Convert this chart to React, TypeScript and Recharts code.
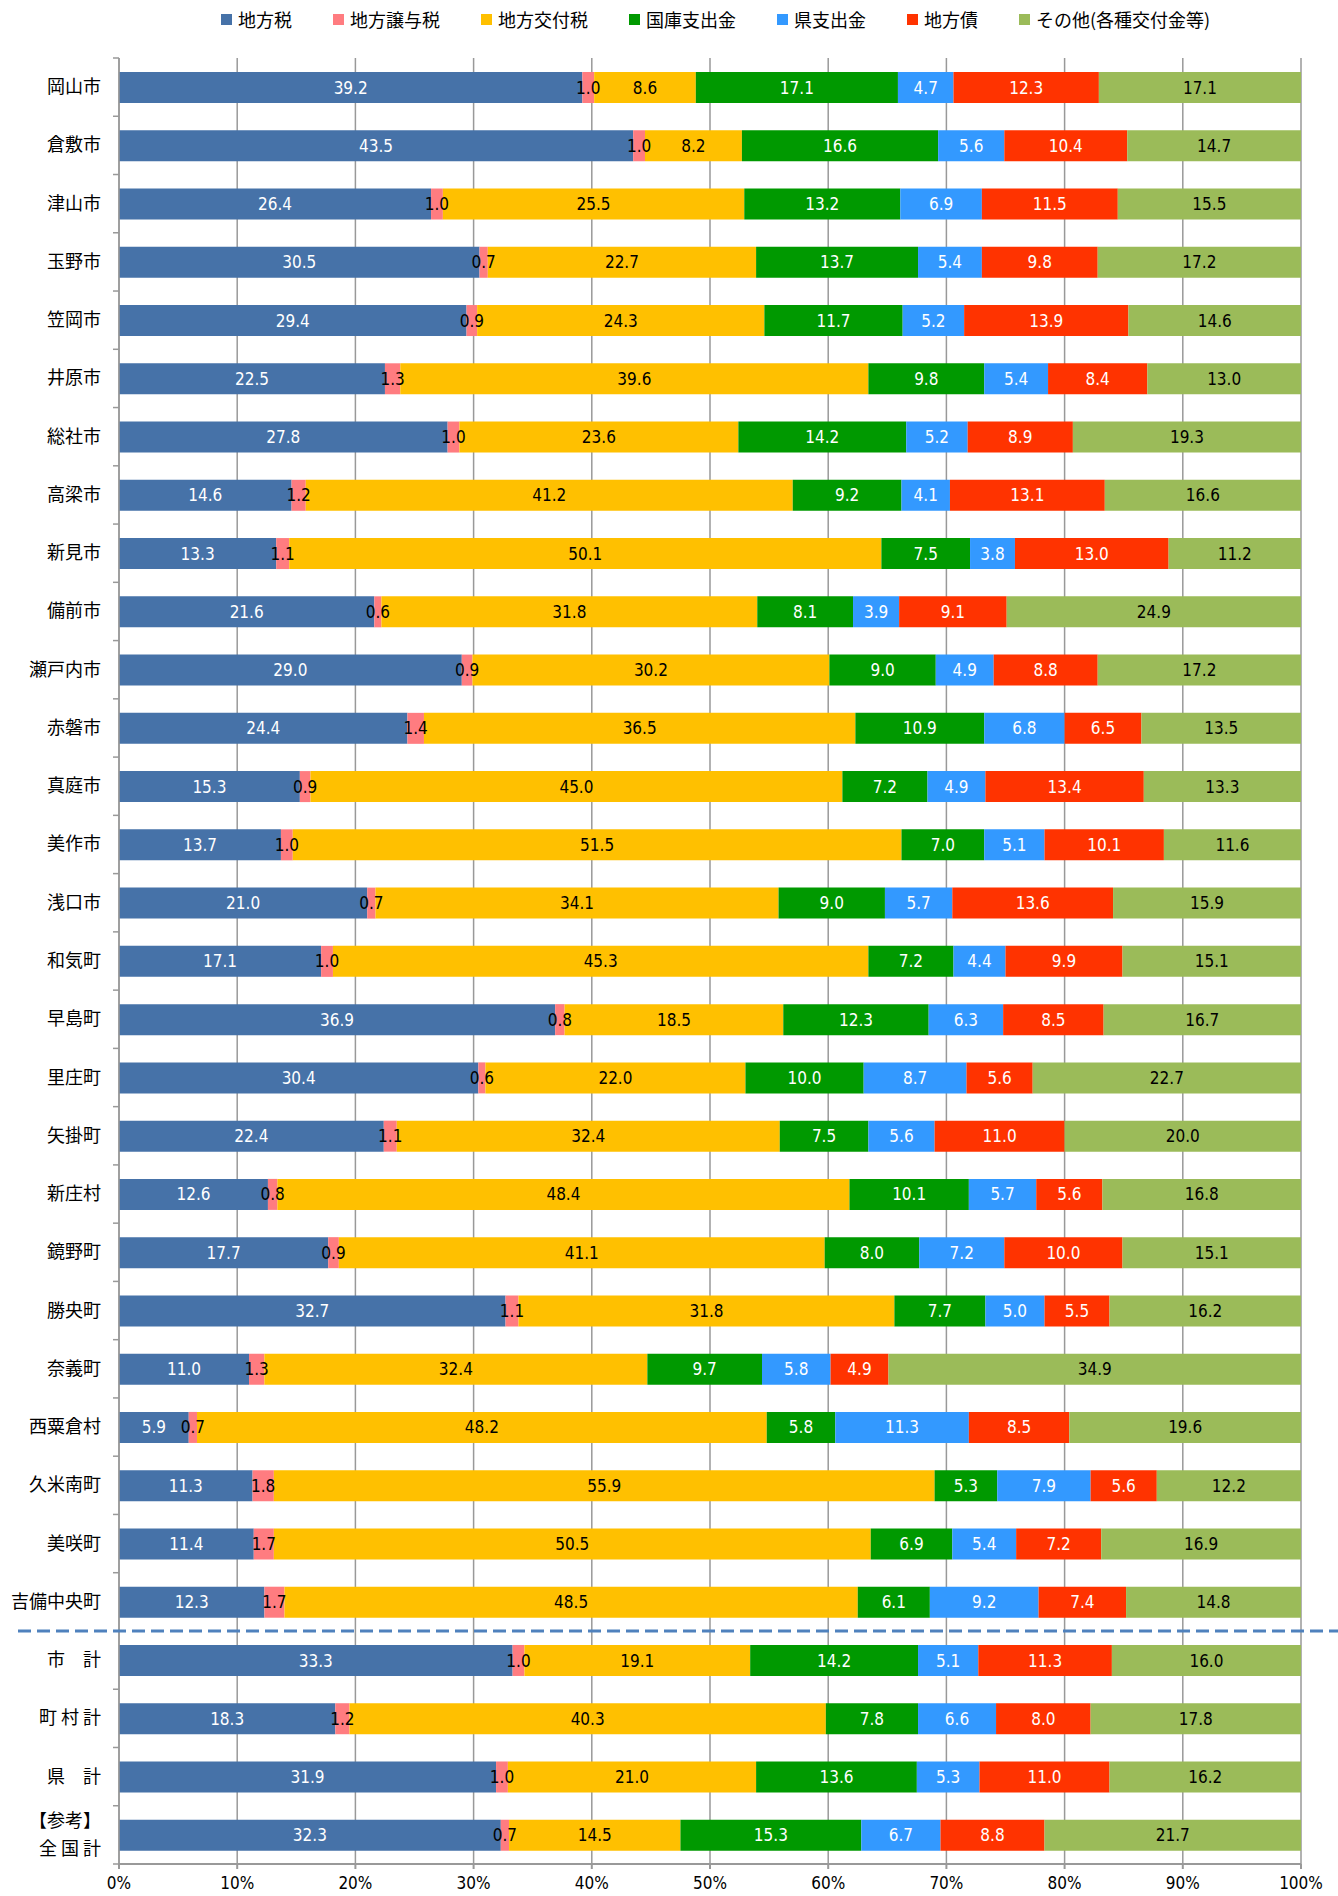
import { BarChart, Bar, XAxis, YAxis, CartesianGrid, Legend, LabelList } from 'recharts'

const categories = [
  '岡山市', '倉敷市', '津山市', '玉野市', '笠岡市', '井原市', '総社市', '高梁市', '新見市', '備前市',
  '瀬戸内市', '赤磐市', '真庭市', '美作市', '浅口市', '和気町', '早島町', '里庄町', '矢掛町', '新庄村',
  '鏡野町', '勝央町', '奈義町', '西粟倉村', '久米南町', '美咲町', '吉備中央町',
  '市　計', '町 村 計', '県　計', '【参考】\n全 国 計'
]

const localTax = [39.2, 43.5, 26.4, 30.5, 29.4, 22.5, 27.8, 14.6, 13.3, 21.6, 29.0, 24.4, 15.3, 13.7, 21.0, 17.1, 36.9, 30.4, 22.4, 12.6, 17.7, 32.7, 11.0, 5.9, 11.3, 11.4, 12.3, 33.3, 18.3, 31.9, 32.3]
const transferTax = [1.0, 1.0, 1.0, 0.7, 0.9, 1.3, 1.0, 1.2, 1.1, 0.6, 0.9, 1.4, 0.9, 1.0, 0.7, 1.0, 0.8, 0.6, 1.1, 0.8, 0.9, 1.1, 1.3, 0.7, 1.8, 1.7, 1.7, 1.0, 1.2, 1.0, 0.7]
const allocationTax = [8.6, 8.2, 25.5, 22.7, 24.3, 39.6, 23.6, 41.2, 50.1, 31.8, 30.2, 36.5, 45.0, 51.5, 34.1, 45.3, 18.5, 22.0, 32.4, 48.4, 41.1, 31.8, 32.4, 48.2, 55.9, 50.5, 48.5, 19.1, 40.3, 21.0, 14.5]
const nationalGrant = [17.1, 16.6, 13.2, 13.7, 11.7, 9.8, 14.2, 9.2, 7.5, 8.1, 9.0, 10.9, 7.2, 7.0, 9.0, 7.2, 12.3, 10.0, 7.5, 10.1, 8.0, 7.7, 9.7, 5.8, 5.3, 6.9, 6.1, 14.2, 7.8, 13.6, 15.3]
const prefGrant = [4.7, 5.6, 6.9, 5.4, 5.2, 5.4, 5.2, 4.1, 3.8, 3.9, 4.9, 6.8, 4.9, 5.1, 5.7, 4.4, 6.3, 8.7, 5.6, 5.7, 7.2, 5.0, 5.8, 11.3, 7.9, 5.4, 9.2, 5.1, 6.6, 5.3, 6.7]
const localBond = [12.3, 10.4, 11.5, 9.8, 13.9, 8.4, 8.9, 13.1, 13.0, 9.1, 8.8, 6.5, 13.4, 10.1, 13.6, 9.9, 8.5, 5.6, 11.0, 5.6, 10.0, 5.5, 4.9, 8.5, 5.6, 7.2, 7.4, 11.3, 8.0, 11.0, 8.8]
const other = [17.1, 14.7, 15.5, 17.2, 14.6, 13.0, 19.3, 16.6, 11.2, 24.9, 17.2, 13.5, 13.3, 11.6, 15.9, 15.1, 16.7, 22.7, 20.0, 16.8, 15.1, 16.2, 34.9, 19.6, 12.2, 16.9, 14.8, 16.0, 17.8, 16.2, 21.7]

const xTicks = [0, 0.1, 0.2, 0.3, 0.4, 0.5, 0.6, 0.7, 0.8, 0.9, 1]

const series = [
  { key: 'localTax', name: '地方税', color: '#4672a8', text: '#ffffff', values: localTax },
  { key: 'transferTax', name: '地方譲与税', color: '#ff7c80', text: '#000000', values: transferTax },
  { key: 'allocationTax', name: '地方交付税', color: '#ffc000', text: '#000000', values: allocationTax },
  { key: 'nationalGrant', name: '国庫支出金', color: '#009900', text: '#ffffff', values: nationalGrant },
  { key: 'prefGrant', name: '県支出金', color: '#3399ff', text: '#ffffff', values: prefGrant },
  { key: 'localBond', name: '地方債', color: '#ff3300', text: '#ffffff', values: localBond },
  { key: 'other', name: 'その他(各種交付金等)', color: '#9bbb59', text: '#000000', values: other },
]

const data = categories.map((name, i) => {
  const row: any = { name }
  series.forEach((s) => { row[s.key] = s.values[i] })
  return row
})

const W = 1338
const H = 1896
const margin = { top: 8, right: 37, bottom: 2, left: 0 }
const legendH = 50
const xAxisH = 30
const yAxisW = 119
const plotTop = margin.top + legendH
const plotBottom = H - margin.bottom - xAxisH
const band = (plotBottom - plotTop) / categories.length
// dashed separator sits between the municipalities and the totals
const separatorY = plotTop + band * categories.indexOf('市　計')

const cjk = '"Noto Sans CJK JP", "Noto Sans", sans-serif'
const num = '"Liberation Sans Narrow", "DejaVu Sans Condensed", "Liberation Sans", sans-serif'

const CategoryTick = (props: any) => {
  const { x, y, payload, index } = props
  const lines = String(payload.value).split('\n')
  const top = y - band / 2
  return (
    <g>
      <line x1={yAxisW - 6} x2={yAxisW} y1={top} y2={top} stroke="#999" strokeWidth={1.5} />
      {index === categories.length - 1 && (
        <line x1={yAxisW - 6} x2={yAxisW} y1={y + band / 2} y2={y + band / 2} stroke="#999" strokeWidth={1.5} />
      )}
      <text x={x} y={y} textAnchor="end" fontFamily={cjk} fontSize={18} fill="#000">
        {lines.map((l, i) => (
          <tspan key={i} x={x} dy={i === 0 ? (lines.length === 1 ? 6 : -8) : 28}>{l}</tspan>
        ))}
      </text>
    </g>
  )
}

// legend drawn from the series list so the order follows the stacking order
const LegendContent = () => (
  <div style={{ display: 'flex', alignItems: 'center', height: 22, paddingLeft: 221, fontFamily: cjk, fontSize: 18, color: '#000' }}>
    {series.map((s) => (
      <div key={s.key} style={{ display: 'flex', alignItems: 'center', marginRight: 41, whiteSpace: 'nowrap' }}>
        <span style={{ display: 'inline-block', width: 11, height: 11, background: s.color, marginRight: 6 }} />
        {s.name}
      </div>
    ))}
  </div>
)

export default function App() {
  return (
    <div style={{ position: 'absolute', left: 0, top: 0, width: W, height: H, background: '#fff' }}>
      <BarChart
        width={W}
        height={H}
        data={data}
        layout="vertical"
        stackOffset="expand"
        barSize={31}
        margin={margin}
      >
        <CartesianGrid horizontal={false} stroke="#999" strokeWidth={1.5} />
        <XAxis
          type="number"
          domain={[0, 1]}
          ticks={xTicks}
          tickFormatter={(v: number) => `${Math.round(v * 100)}%`}
          height={xAxisH}
          stroke="#999"
          strokeWidth={2}
          tickSize={5}
          tickMargin={8}
          tick={{ fontFamily: num, fontSize: 17, fill: '#000' }}
        />
        <YAxis
          type="category"
          dataKey="name"
          width={yAxisW}
          stroke="#999"
          strokeWidth={1.5}
          tickLine={false}
          tickSize={6}
          tickMargin={12}
          interval={0}
          tick={<CategoryTick />}
        />
        <Legend
          verticalAlign="top"
          align="left"
          height={legendH}
          content={<LegendContent />}
        />
        {series.map((s) => (
          <Bar key={s.key} dataKey={s.key} name={s.name} stackId="a" fill={s.color} isAnimationActive={false}>
            <LabelList
              dataKey={s.key}
              position="center"
              formatter={(v: any) => Number(v).toFixed(1)}
              fill={s.text}
              fontFamily={num}
              fontSize={17}
            />
          </Bar>
        ))}
      </BarChart>
      <svg width={W} height={H} style={{ position: 'absolute', left: 0, top: 0, pointerEvents: 'none' }}>
        <line x1={18} x2={W} y1={separatorY} y2={separatorY} stroke="#4f81bd" strokeWidth={3} strokeDasharray="13 6" />
      </svg>
    </div>
  )
}
